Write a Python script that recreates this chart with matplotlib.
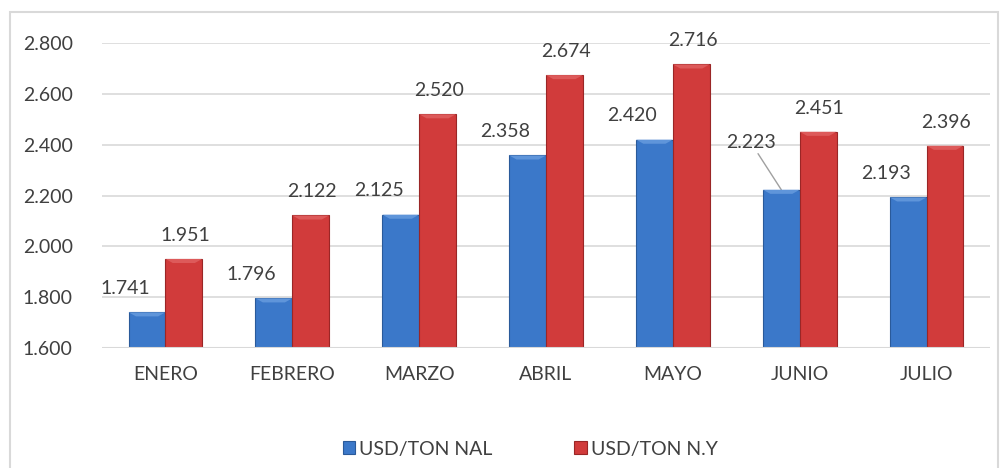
import numpy as np
import matplotlib.pyplot as plt
from matplotlib.patches import Rectangle

meses = ["ENERO", "FEBRERO", "MARZO", "ABRIL", "MAYO", "JUNIO", "JULIO"]
usd_nal = [1741, 1796, 2125, 2358, 2420, 2223, 2193]
usd_ny = [1951, 2122, 2520, 2674, 2716, 2451, 2396]
yticks = [1600, 1800, 2000, 2200, 2400, 2600, 2800]

plt.rcParams['font.family'] = ['Lato', 'DejaVu Sans']
FS = 14
TXT = "#404040"

def fmt(v):
    return "{:,}".format(int(v)).replace(",", ".")

fig = plt.figure(figsize=(10, 4.68), dpi=100)
ax = fig.add_axes([0.102, 0.256, 0.888, 0.652])

x = np.arange(len(meses))
w = 0.29
b1 = ax.bar(x - w/2, usd_nal, w, bottom=0, color="#3b78c9", edgecolor="#2a5a9a", linewidth=0.8, zorder=3)
b2 = ax.bar(x + w/2, usd_ny, w, bottom=0, color="#d13b3b", edgecolor="#9a2626", linewidth=0.8, zorder=3)

ax.set_ylim(1600, 2800)
ax.set_xlim(-0.5, len(meses) - 0.5)
ax.set_yticks(yticks)
ax.set_yticklabels([fmt(t) for t in yticks])
ax.set_xticks(x)
ax.set_xticklabels(meses)
ax.tick_params(length=0, labelsize=FS, colors=TXT, pad=13)
ax.tick_params(axis='y', pad=21)
ax.grid(axis='y', color="#d9d9d9", linewidth=1.2, zorder=0)
for s in ax.spines.values():
    s.set_visible(False)
ax.axhline(1600, color="#d9d9d9", linewidth=1.5, zorder=4)

# top bevel highlight
for bars, hl in ((b1, "#5f95da"), (b2, "#dd5a5a")):
    for r in bars:
        x0, wd, h = r.get_x(), r.get_width(), r.get_height()
        ax.fill([x0, x0 + wd, x0 + wd*0.8, x0 + wd*0.2], [h, h, h - 16, h - 16],
                color=hl, zorder=4, linewidth=0)

for i, r in enumerate(b1):
    if meses[i] == "JUNIO":
        ax.annotate(fmt(usd_nal[i]), xy=(r.get_x() + r.get_width()*0.5, r.get_height()),
                    xytext=(-22, 28), textcoords='offset points', ha='center', va='bottom',
                    fontsize=FS, color=TXT,
                    arrowprops=dict(arrowstyle='-', color="#a0a0a0", lw=1, shrinkA=0, shrinkB=0))
    else:
        ax.annotate(fmt(usd_nal[i]), xy=(r.get_x() + r.get_width()/2, r.get_height()),
                    xytext=(-16, 11), textcoords='offset points', ha='center', va='bottom',
                    fontsize=FS, color=TXT)
for i, r in enumerate(b2):
    ax.annotate(fmt(usd_ny[i]), xy=(r.get_x() + r.get_width()/2, r.get_height()),
                xytext=(1, 11), textcoords='offset points', ha='center', va='bottom',
                fontsize=FS, color=TXT)

leg = fig.legend([b1, b2], ["USD/TON NAL", "USD/TON N.Y"], loc='center', bbox_to_anchor=(0.53, 0.04),
                 ncol=2, frameon=False, fontsize=FS, handlelength=0.65, handleheight=0.65,
                 columnspacing=4.2, handletextpad=0.2, labelcolor=TXT)

fig.patches.append(Rectangle((0.010, -0.01), 0.988, 0.985, transform=fig.transFigure,
                             fill=False, edgecolor="#d9d9d9", linewidth=1.5))

fig.savefig("out.png", dpi=100)
